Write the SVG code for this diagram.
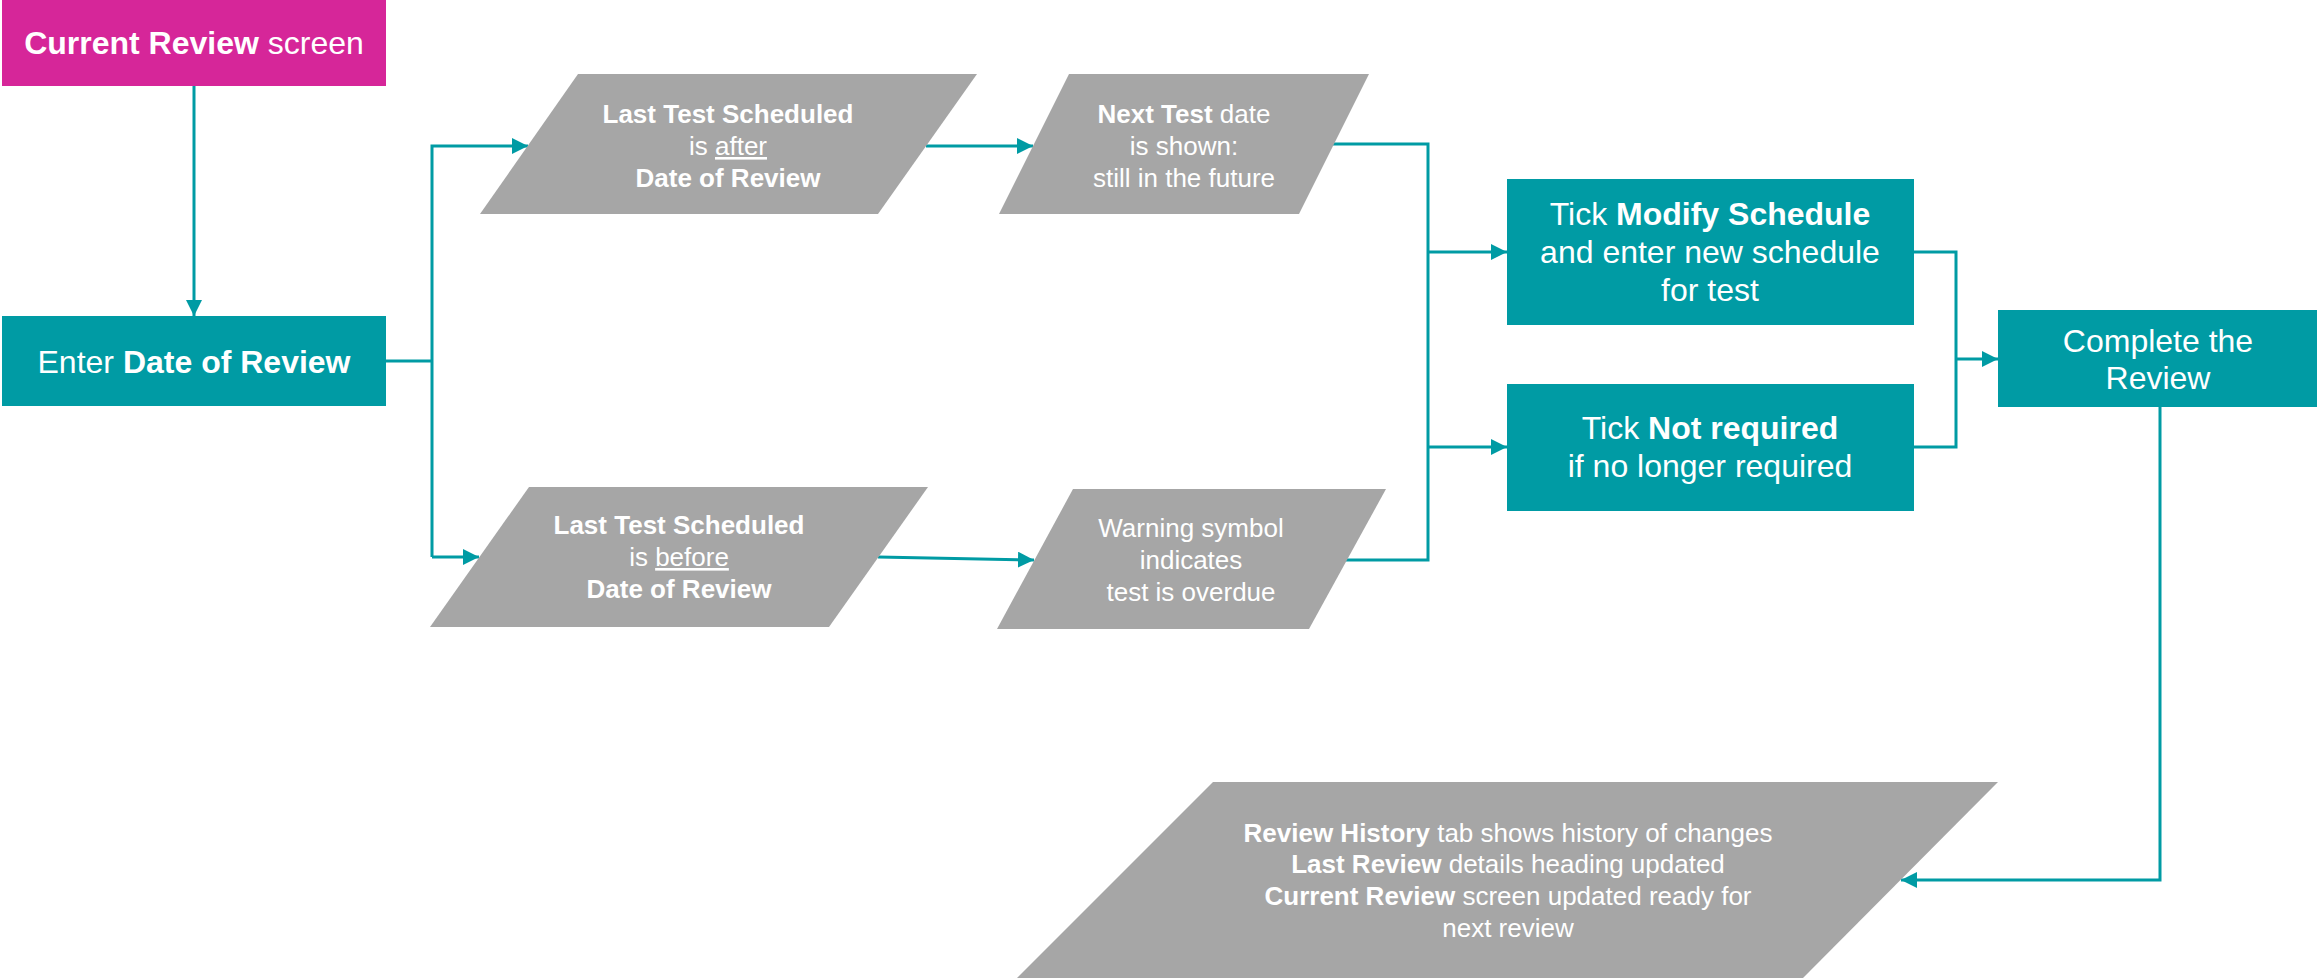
<svg xmlns="http://www.w3.org/2000/svg" width="2318" height="980" viewBox="0 0 2318 980">
  <style>
    text { font-family: "Liberation Sans", Arial, sans-serif; fill: #ffffff; text-anchor: middle; }
    .big { font-size: 32px; }
    .small { font-size: 26px; }
    .b { font-weight: bold; }
    .u { text-decoration: underline; }
    .box { fill: #009BA4; }
    .pink { fill: #D62699; }
    .para { fill: #A6A6A6; }
    .wire { fill: none; stroke: #009BA4; stroke-width: 3; }
  </style>
  <defs>
    <marker id="arrow" viewBox="0 0 16 16" refX="16" refY="8" markerWidth="16" markerHeight="16" markerUnits="userSpaceOnUse" orient="auto">
      <path d="M0,0 L16,8 L0,16 Z" fill="#009BA4"/>
    </marker>
  </defs>
  <rect width="2318" height="980" fill="#ffffff"/>

  <!-- connectors -->
  <g id="connectors">
    <path class="wire" d="M194,86 V316" marker-end="url(#arrow)"/>
    <path class="wire" d="M386,361 H432"/>
    <path class="wire" d="M432,557 V146 H528" marker-end="url(#arrow)"/>
    <path class="wire" d="M432,557 H479" marker-end="url(#arrow)"/>
    <path class="wire" d="M926,146 H1033" marker-end="url(#arrow)"/>
    <path class="wire" d="M878,557 L1034,560" marker-end="url(#arrow)"/>
    <path class="wire" d="M1333,144 H1428 V560 H1346"/>
    <path class="wire" d="M1428,252 H1507" marker-end="url(#arrow)"/>
    <path class="wire" d="M1428,447 H1507" marker-end="url(#arrow)"/>
    <path class="wire" d="M1914,252 H1956 V447 H1914"/>
    <path class="wire" d="M1956,359 H1998" marker-end="url(#arrow)"/>
    <path class="wire" d="M2160,407 V880 H1901" marker-end="url(#arrow)"/>
  </g>

  <!-- start screen -->
  <g id="node-current-review">
    <rect class="pink" x="2" y="0" width="384" height="86"/>
    <text class="big" x="194" y="54"><tspan class="b">Current Review</tspan> screen</text>
  </g>

  <g id="node-enter-date">
    <rect class="box" x="2" y="316" width="384" height="90"/>
    <text class="big" x="194" y="373">Enter <tspan class="b">Date of Review</tspan></text>
  </g>

  <g id="node-after">
    <polygon class="para" points="578,74 977,74 878,214 480,214"/>
    <text class="small b" x="728" y="123">Last Test Scheduled</text>
    <text class="small" x="728" y="155">is <tspan class="u">after</tspan></text>
    <text class="small b" x="728" y="187">Date of Review</text>
  </g>

  <g id="node-before">
    <polygon class="para" points="529,487 928,487 829,627 430,627"/>
    <text class="small b" x="679" y="534">Last Test Scheduled</text>
    <text class="small" x="679" y="566">is <tspan class="u">before</tspan></text>
    <text class="small b" x="679" y="598">Date of Review</text>
  </g>

  <g id="node-next-test">
    <polygon class="para" points="1069,74 1369,74 1299,214 999,214"/>
    <text class="small" x="1184" y="123"><tspan class="b">Next Test</tspan> date</text>
    <text class="small" x="1184" y="155">is shown:</text>
    <text class="small" x="1184" y="187">still in the future</text>
  </g>

  <g id="node-warning">
    <polygon class="para" points="1073,489 1386,489 1309,629 997,629"/>
    <text class="small" x="1191" y="537">Warning symbol</text>
    <text class="small" x="1191" y="569">indicates</text>
    <text class="small" x="1191" y="601">test is overdue</text>
  </g>

  <g id="node-modify">
    <rect class="box" x="1507" y="179" width="407" height="146"/>
    <text class="big" x="1710" y="225">Tick <tspan class="b">Modify Schedule</tspan></text>
    <text class="big" x="1710" y="263">and enter new schedule</text>
    <text class="big" x="1710" y="301">for test</text>
  </g>

  <g id="node-not-required">
    <rect class="box" x="1507" y="384" width="407" height="127"/>
    <text class="big" x="1710" y="439">Tick <tspan class="b">Not required</tspan></text>
    <text class="big" x="1710" y="477">if no longer required</text>
  </g>

  <g id="node-complete">
    <rect class="box" x="1998" y="310" width="319" height="97"/>
    <text class="big" x="2158" y="352">Complete the</text>
    <text class="big" x="2158" y="389">Review</text>
  </g>

  <g id="node-history">
    <polygon class="para" points="1213,782 1998,782 1803,978 1017,978"/>
    <text class="small" x="1508" y="842"><tspan class="b">Review History</tspan> tab shows history of changes</text>
    <text class="small" x="1508" y="873"><tspan class="b">Last Review</tspan> details heading updated</text>
    <text class="small" x="1508" y="905"><tspan class="b">Current Review</tspan> screen updated ready for</text>
    <text class="small" x="1508" y="937">next review</text>
  </g>
</svg>
